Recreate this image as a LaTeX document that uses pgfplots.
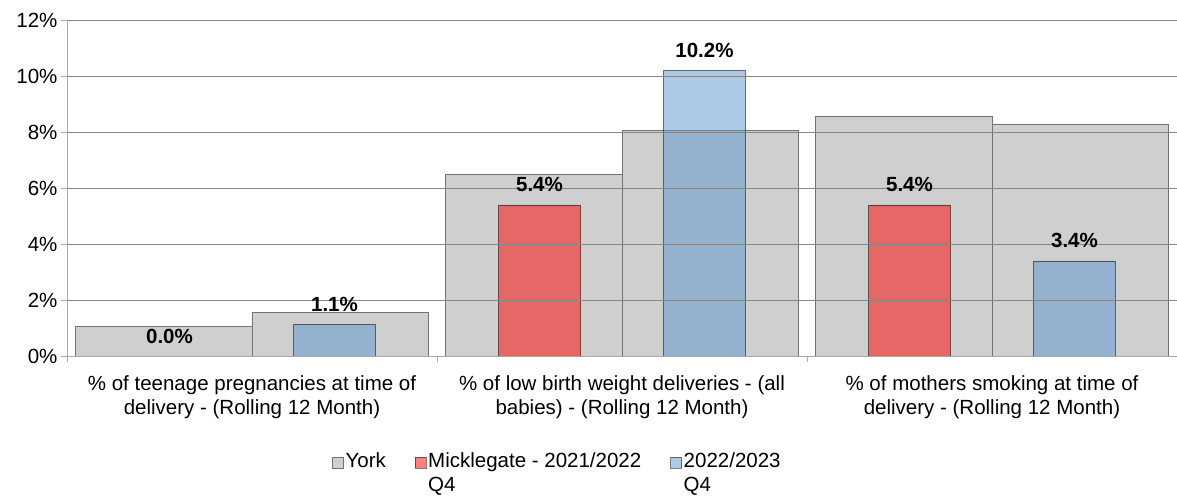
\documentclass[border=0pt]{standalone}
\usepackage{fontspec}
\setmainfont{Liberation Sans}
\usepackage{pgfplots}
\pgfplotsset{compat=1.18}

\definecolor{yorkgrey}{RGB}{207,207,207}
\definecolor{mickred}{RGB}{255,0,0}
\definecolor{mickblue}{RGB}{90,149,208}
\definecolor{gridgrey}{RGB}{134,134,134}
\definecolor{axisgrey}{RGB}{170,170,170}
\newcommand{\fs}{\fontsize{20.5}{24}\selectfont}

\begin{document}
\begin{tikzpicture}
\useasboundingbox (-67pt,-139pt) rectangle (1110pt,356pt);
\begin{axis}[
  at={(0pt,0pt)}, anchor=south west,
  scale only axis, width=1110pt, height=336pt,
  xmin=-0.5, xmax=2.5, ymin=0, ymax=12,
  axis on top,
  axis x line*=bottom, axis y line*=left,
  axis line style={draw=axisgrey},
  /pgf/number format/assume math mode=true,
  tick label style={font=\fs},
  tick align=outside, major tick length=6pt,
  tick style={draw=axisgrey},
  ytick={2,4,...,12},
  extra y ticks={0}, extra y tick style={grid=none},
  yticklabel={\pgfmathprintnumber{\tick}\%},
  ymajorgrids, major grid style={draw=gridgrey},
  xtick={-0.5,0.5,1.5}, xticklabels={,,},
  extra x ticks={0,1,2},
  extra x tick style={tick style={draw=none}, tick label style={align=center, yshift=-10pt}},
  extra x tick labels={{\% of teenage pregnancies at time of\\delivery - (Rolling 12 Month)},
                       {\% of low birth weight deliveries - (all\\babies) - (Rolling 12 Month)},
                       {\% of mothers smoking at time of\\delivery - (Rolling 12 Month)}},
  nodes near coords={\pgfmathprintnumber[fixed,fixed zerofill,precision=1]{\pgfplotspointmeta}\%},
  every node near coord/.append style={font=\fs\bfseries, anchor=center, yshift=20pt, text opacity=1},
  legend columns=3,
  legend cell align=left,
  legend style={draw=none, font=\fs, at={(0.2387,-0.28)}, anchor=north west,
    nodes={align=left}, inner sep=0pt,
    /tikz/every even column/.append style={column sep=27pt}},
  legend image code/.code={\draw[#1] (0pt,4pt) rectangle (11pt,15pt);},
]
% York, two periods (grey)
\addplot[ybar, bar width=0.477, bar shift=-0.2385, fill=yorkgrey, draw=black!55, nodes near coords={}]
  coordinates {(0,1.07) (1,6.5) (2,8.57)};
\addlegendentry{York\\\phantom{Q4}}
\addplot[ybar, bar width=0.477, bar shift=0.2385, fill=yorkgrey, draw=black!55, nodes near coords={}, forget plot]
  coordinates {(0,1.57) (1,8.07) (2,8.29)};
% Micklegate
\addplot[ybar, bar width=0.222, bar shift=-0.223, fill=mickred, fill opacity=0.5, draw=black, draw opacity=0.5,
  every node near coord/.append style={xshift=-82.5pt}]
  coordinates {(0,0) (1,5.4) (2,5.4)};
\addlegendentry{Micklegate - 2021/2022\\Q4}
\addplot[ybar, bar width=0.222, bar shift=0.223, fill=mickblue, fill opacity=0.5, draw=black, draw opacity=0.5,
  every node near coord/.append style={xshift=82.5pt}]
  coordinates {(0,1.14) (1,10.21) (2,3.4)};
\addlegendentry{2022/2023\\Q4}
\end{axis}
\end{tikzpicture}
\end{document}
